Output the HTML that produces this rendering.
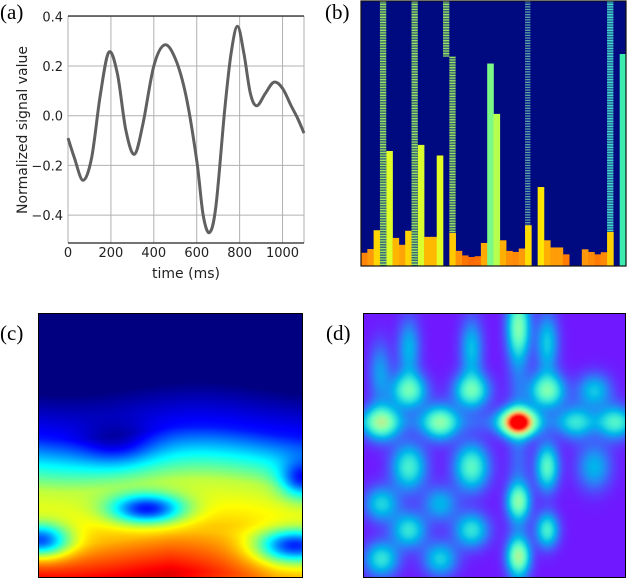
<!DOCTYPE html>
<html><head><meta charset="utf-8">
<style>
html,body{margin:0;padding:0;background:#fff;}
#root{position:relative;width:628px;height:580px;overflow:hidden;font-family:"Liberation Sans","DejaVu Sans",sans-serif;}
.lbl{position:absolute;font-family:"Liberation Serif",serif;font-size:21px;color:#000;line-height:1;}
canvas{position:absolute;}
</style></head>
<body>
<div id="root">
<div class="lbl" style="left:0px;top:2px">(a)</div>
<div class="lbl" style="left:325px;top:2px">(b)</div>
<div class="lbl" style="left:0px;top:323px">(c)</div>
<div class="lbl" style="left:326px;top:323px">(d)</div>

<svg id="chartA" width="320" height="290" style="position:absolute;left:0;top:0"></svg>
<svg id="chartB" width="270" height="270" style="position:absolute;top:0;left:358px"></svg>
<canvas id="chartC" width="265" height="265" style="left:38px;top:313px;border:1px solid #000;width:263px;height:263px;"></canvas>
<canvas id="chartD" width="263" height="265" style="left:363px;top:313px;border:1px solid #000;width:261px;height:263px;"></canvas>
</div>
<script>
// ---------- Panel (a) data ----------
const times=[0,30,70,110,150,190,230,270,310,350,400,450,500,550,600,630,660,690,730,760,790,820,850,880,920,960,1000,1040,1070,1100];
const signal=[-0.09,-0.17,-0.26,-0.17,0.08,0.255,0.17,-0.06,-0.155,-0.03,0.2,0.285,0.23,0.08,-0.18,-0.40,-0.47,-0.36,0.02,0.25,0.36,0.25,0.09,0.04,0.09,0.135,0.11,0.04,-0.01,-0.07];
const xTicks=[0,200,400,600,800,1000];
const yTicks=[-0.4,-0.2,0.0,0.2,0.4];
// ---------- Panel (b) data ----------
const barValues=[0.05,0.064,0.135,0,0.434,0.106,0.08,0.133,0,0.457,0.11,0.11,0.417,0,0.125,0.057,0.04,0.034,0.037,0.087,0.764,0.574,0.097,0.057,0.053,0.066,0.154,0,0.298,0.097,0.07,0.07,0.044,0,0,0.063,0.053,0.044,0.052,0.129,0,0.80];
const stripeIdx=[3,8,13,14,26,39];
const stripeFrom=[0,0,0.79,0.125,0.154,0.129];
const stripeTo=[1,1,1,0.79,1,1];
const stripeTone=[0,0,0,0,1,2];
// ---------- Panel (c) profile ----------
const depthKnots=[0.0,0.28,0.45,0.55,0.65,0.85,1.0];
const powerKnots=[0.0,0.0,0.15,0.38,0.58,0.72,0.93];
// ---------- Panel (d) blobs ----------
const blobX=[0.17,0.41,0.70,0.88,0.065,0.29,0.59,0.81,0.96,0.17,0.41,0.70,0.88,0.065,0.29,0.59,0.17,0.41,0.70,0.065,0.29,0.59,0.17,0.41,0.59,0.70,0.06];
const blobY=[0.29,0.29,0.29,0.29,0.41,0.41,0.41,0.41,0.41,0.58,0.58,0.58,0.58,0.72,0.72,0.71,0.82,0.82,0.82,0.93,0.93,0.92,0.13,0.13,0.05,0.11,0.22];
const blobV=[0.42,0.42,0.45,0.25,0.48,0.42,1.0,0.25,0.3,0.36,0.4,0.4,0.22,0.28,0.22,0.4,0.32,0.32,0.36,0.32,0.27,0.45,0.22,0.24,0.38,0.26,0.18];

const NS='http://www.w3.org/2000/svg';
function mk(parent,tag,attrs){const e=document.createElementNS(NS,tag);for(const k in attrs)e.setAttribute(k,attrs[k]);parent.appendChild(e);return e;}

// ---- Panel A ----
(function(){
const svg=document.getElementById('chartA');
const x0=68,x1=304,yTop=16,yBot=243;
const sx=t=>x0+(t/1100)*(x1-x0);
const sy=v=>115.7-(v/0.1)*24.85;
xTicks.forEach(t=>{
 const l=mk(svg,'line',{x1:sx(t),x2:sx(t),y1:yTop,y2:yBot,stroke:'#b0b0b0','stroke-width':1});
 
 const tx=mk(svg,'text',{x:sx(t),y:257,'text-anchor':'middle','font-size':13,'font-family':'DejaVu Sans, Liberation Sans, sans-serif',fill:'#222'});
 tx.textContent=String(t);
 
});
mk(svg,'line',{x1:x1,x2:x1,y1:yTop,y2:yBot,stroke:'#b0b0b0','stroke-width':1});
yTicks.forEach(v=>{
 const l=mk(svg,'line',{x1:x0,x2:x1,y1:sy(v),y2:sy(v),stroke:'#b0b0b0','stroke-width':1});
 
 const tx=mk(svg,'text',{x:63,y:sy(v)+5,'text-anchor':'end','font-size':13,'font-family':'DejaVu Sans, Liberation Sans, sans-serif',fill:'#222'});
 tx.textContent=(v<0?'\u2212':'')+Math.abs(v).toFixed(1);
 
});
mk(svg,'line',{x1:x0,x2:x1,y1:yTop,y2:yTop,stroke:'#222','stroke-width':1.2});
mk(svg,'line',{x1:x0,x2:x1,y1:yBot,y2:yBot,stroke:'#222','stroke-width':1.2});
const P=times.map((t,i)=>[sx(t),sy(signal[i])]);
let d='M'+P[0][0]+','+P[0][1];
for(let i=0;i<P.length-1;i++){
 const p0=P[Math.max(0,i-1)],p1=P[i],p2=P[i+1],p3=P[Math.min(P.length-1,i+2)];
 const c1=[p1[0]+(p2[0]-p0[0])/6,p1[1]+(p2[1]-p0[1])/6];
 const c2=[p2[0]-(p3[0]-p1[0])/6,p2[1]-(p3[1]-p1[1])/6];
 d+=' C'+c1+' '+c2+' '+p2;
}
const path=mk(svg,'path',{d:d,fill:'none',stroke:'#606060','stroke-width':3,'stroke-linejoin':'round'});

const xl=mk(svg,'text',{x:186,y:278,'text-anchor':'middle','font-size':14,'font-family':'DejaVu Sans, Liberation Sans, sans-serif',fill:'#222'});
xl.textContent='time (ms)';
const yl=mk(svg,'text',{x:0,y:0,transform:'translate(27,130) rotate(-90)','text-anchor':'middle','font-size':14,'font-family':'DejaVu Sans, Liberation Sans, sans-serif',fill:'#222'});
yl.textContent='Normalized signal value';
})();

// ---- Panel B ----
(function(){
const svg=document.getElementById('chartB');
const L=3,R=268,T=1,B=266;const n=barValues.length;const bw=(R-L)/n;
mk(svg,'rect',{x:L,y:T,width:R-L,height:B-T,fill:'#000a80'});
const bx=i=>L+i*bw;const by=v=>B-v*(B-T);
function barColor(v){
 const stops=[[0.03,[255,100,0]],[0.06,[255,150,10]],[0.11,[255,185,0]],[0.14,[255,220,0]],[0.3,[255,230,0]],[0.43,[225,255,40]],[0.58,[180,255,80]],[0.76,[130,250,130]],[0.8,[60,235,175]]];
 if(v<=stops[0][0])return 'rgb('+stops[0][1]+')';
 for(let k=1;k<stops.length;k++){if(v<=stops[k][0]){const a=stops[k-1],b=stops[k];const f=(v-a[0])/(b[0]-a[0]);return 'rgb('+a[1].map((c,j)=>Math.round(c+(b[1][j]-c)*f))+')';}}
 return 'rgb('+stops[stops.length-1][1]+')';
}
barValues.forEach((v,i)=>{
 if(v<=0)return;
 const r=mk(svg,'rect',{x:bx(i),y:by(v),width:bw+0.3,height:B-by(v),fill:barColor(v)});
 
});
const tones=[['#98e060','#3a6a78'],['#5aa0a0','#0a1a90'],['#40d8d0','#2a6898']];
stripeIdx.forEach((idx,k)=>{
 const y1=by(stripeTo[k]),y2=by(stripeFrom[k]);const tn=tones[stripeTone[k]];
 const g=mk(svg,'g',{});
 
 const w=stripeTone[k]===1?bw*0.85:bw;
 for(let y=y1;y<y2;y+=2.6){
  mk(g,'rect',{x:bx(idx),y:y,width:w,height:Math.min(1.4,y2-y),fill:tn[0]});
  mk(g,'rect',{x:bx(idx),y:y+1.4,width:w,height:Math.max(0,Math.min(1.2,y2-y-1.4)),fill:tn[1]});
 }
});
mk(svg,'rect',{x:L,y:T,width:R-L,height:B-T,fill:'none',stroke:'#111','stroke-width':1.2});
})();

// ---- Panel C (jet) ----
(function(){
const c=document.getElementById('chartC');const ctx=c.getContext('2d');
const W=c.width,H=c.height;const img=ctx.createImageData(W,H);
const cl=v=>Math.max(0,Math.min(1,v));
function prof(y){
 if(y<=depthKnots[0])return powerKnots[0];
 for(let k=1;k<depthKnots.length;k++){if(y<=depthKnots[k]){const f=(y-depthKnots[k-1])/(depthKnots[k]-depthKnots[k-1]);return powerKnots[k-1]+(powerKnots[k]-powerKnots[k-1])*f;}}
 return powerKnots[powerKnots.length-1];
}
const holes=[[0.41,0.74,0.5,0.1,0.04],[0.0,0.86,0.5,0.08,0.045],[0.97,0.88,0.5,0.1,0.045],[1.0,0.63,0.35,0.06,0.05],[0.3,0.5,0.15,0.1,0.06]];
for(let j=0;j<H;j++)for(let i=0;i<W;i++){
 const nx=i/W,ny=j/H;
 const yy=ny-0.025*Math.cos(2*Math.PI*(nx-0.1));
 let v=prof(yy);
 v-=0.18*cl((nx-0.5)/0.4)*cl((ny-0.8)/0.2);
 holes.forEach(h=>{v-=h[2]*Math.exp(-((nx-h[0])**2)/(2*h[3]*h[3])-((ny-h[1])**2)/(2*h[4]*h[4]));});
 v=cl(v)*0.97;
 const r=cl(1.5-Math.abs(4*v-3)),g=cl(1.5-Math.abs(4*v-2)),b=cl(1.5-Math.abs(4*v-1));
 const p=(j*W+i)*4;img.data[p]=r*255;img.data[p+1]=g*255;img.data[p+2]=b*255;img.data[p+3]=255;
}
ctx.putImageData(img,0,0);
})();

// ---- Panel D (rainbow) ----
(function(){
const c=document.getElementById('chartD');const ctx=c.getContext('2d');
const W=c.width,H=c.height;const img=ctx.createImageData(W,H);
const cl=v=>Math.max(0,Math.min(1,v));
for(let j=0;j<H;j++)for(let i=0;i<W;i++){
 const nx=i/W,ny=j/H;
 let v=0.03;
 for(let k=0;k<blobX.length;k++){
  const s=blobV[k]>0.9?0.035:0.045;
  const sxk=(k>=22||(blobX[k]>0.55&&blobX[k]<0.72&&blobY[k]>0.5))?0.03:0.045;
  const syk=(k>=22)?0.08:(k>=9&&k<=12)?0.06:s;
  v+=blobV[k]*Math.exp(-((nx-blobX[k])**2)/(2*sxk*sxk)-((ny-blobY[k])**2)/(2*syk*syk));
 }
 v+=0.1*Math.exp(-((nx-0.59)**2)/(2*0.03*0.03))+0.08*Math.exp(-((ny-0.41)**2)/(2*0.03*0.03));
 v=cl(v);
 const r=cl(Math.abs(2*v-0.5)),g=Math.sin(Math.PI*v),b=Math.cos(Math.PI*v/2);
 const p=(j*W+i)*4;img.data[p]=r*255;img.data[p+1]=g*255;img.data[p+2]=b*255;img.data[p+3]=255;
}
ctx.putImageData(img,0,0);
})();
</script>
</body></html>
